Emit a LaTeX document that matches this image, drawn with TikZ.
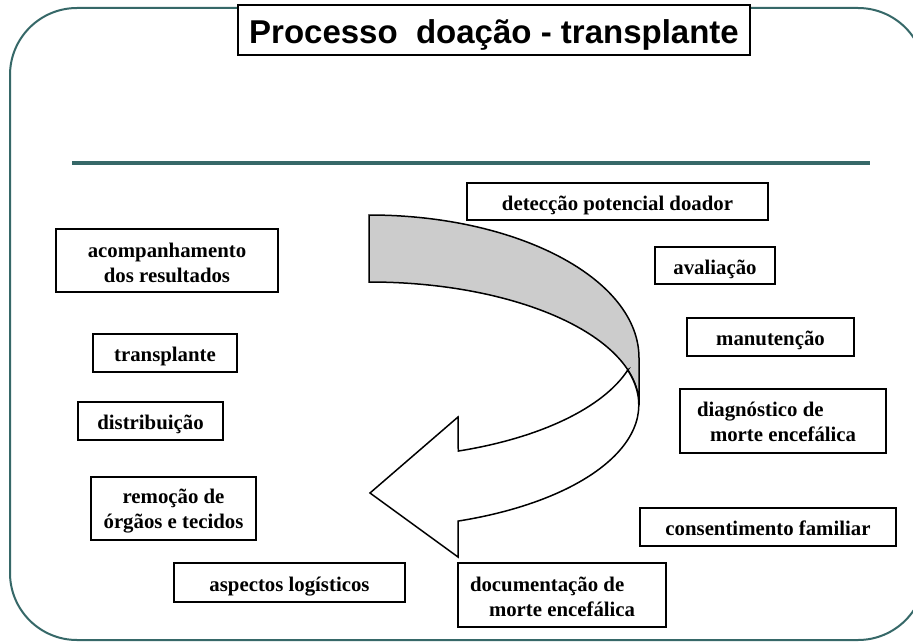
\documentclass[tikz,border=0pt]{standalone}
\usepackage{fontspec}
\setmainfont{Liberation Serif}
\newfontfamily\titlefont{Liberation Sans}
\definecolor{frameteal}{RGB}{54,104,104}
\definecolor{fundoseta}{RGB}{204,204,204}

\begin{document}
\begin{tikzpicture}[x=1pt,y=-1pt,
  etapa/.style={draw,line width=1.6pt,fill=white,inner sep=0pt,
    font=\fontsize{20.8}{25}\selectfont\bfseries},
  seta/.style={draw,line width=1.5pt,line join=miter}]
\clip (0,0) rectangle (913,642);
\fill[white] (0,0) rectangle (913,642);
\draw[frameteal,line width=2pt,rounded corners=67pt] (10,8) rectangle (925,640);
\draw[frameteal,line width=3.4pt] (72,163) -- (870,163);

\node[draw,line width=1.6pt,fill=white,minimum width=512pt,minimum height=50pt,inner sep=0pt,
  text height=26.6pt,text depth=0pt,
  font=\titlefont\fontsize{33}{40}\selectfont\bfseries] (titulo) at (494,30) {Processo\ \ doação - transplante};

\path[seta,fill=fundoseta] (369,215) arc[start angle=270,end angle=360,x radius=270,y radius=143]
  -- (639,405) arc[start angle=0,end angle=-90,x radius=270,y radius=123] -- cycle;
\path[seta,fill=white] (627.9,369.9) arc[start angle=16.5,end angle=70.7,x radius=270,y radius=123]
  -- (458,417) -- (370,493) -- (458,557) -- (458,521.1)
  arc[start angle=70.7,end angle=-16.5,x radius=270,y radius=123] -- cycle;

\foreach \nome/\x/\y/\w/\h/\texto in {deteccao/617.5/201.5/301/37/detecção potencial doador,
  avaliacao/715/265.5/120/37/avaliação, manutencao/770.5/337/167/38/manutenção,
  consentimento/768/527/256/38/consentimento familiar, aspectos/289.5/582.5/231/39/aspectos logísticos,
  distribuicao/150.5/421/145/38/distribuição, transplante/165/353/144/38/transplante} {
\node[etapa,minimum width=\w pt,minimum height=\h pt,text height=17.5pt,text depth=0pt] (\nome) at (\x,\y) {\texto}; }

\node[etapa,minimum width=222pt,minimum height=63pt,text width=200pt,align=flush center] (acompanhamento) at (167,260.5)
  {\rule{0pt}{18.5pt}acompanhamento\\dos resultados};
\node[etapa,minimum width=165pt,minimum height=63pt,text width=160pt,align=flush center] (remocao) at (173.5,508.5)
  {\rule{0pt}{19.1pt}remoção de\\órgãos e tecidos};
\node[etapa,minimum width=206pt,minimum height=64pt,text width=172pt,align=flush left] (diagnostico) at (783,421)
  {\rule{0pt}{16.5pt}diagnóstico de\\\hspace*{13pt}morte encefálica};
\node[etapa,minimum width=208pt,minimum height=64pt,text width=184pt,align=flush left] (documentacao) at (562,595)
  {\rule{0pt}{18.5pt}documentação de\\\hspace*{19pt}morte encefálica};
\end{tikzpicture}
\end{document}
